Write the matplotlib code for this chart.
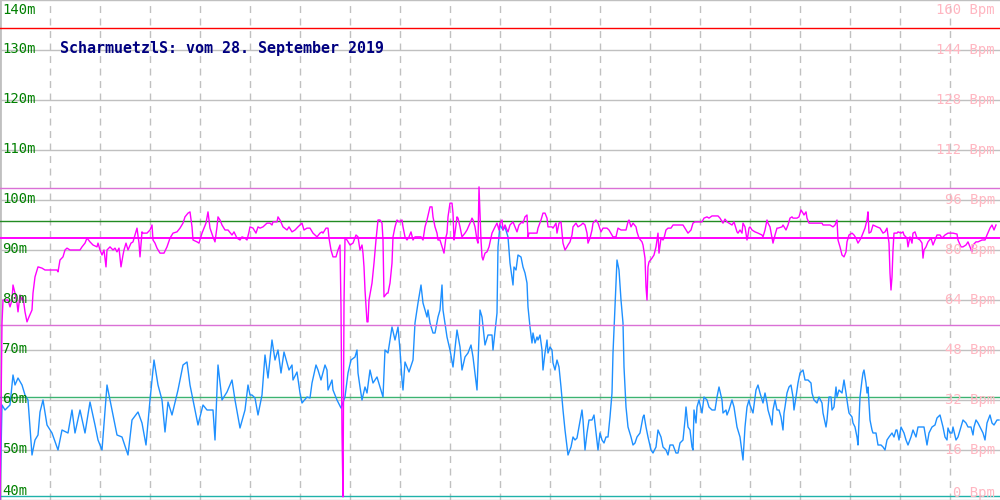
import matplotlib
matplotlib.use('Agg')
import matplotlib.pyplot as plt
import matplotlib.transforms as mtransforms

# Altitude track (m), x = sample position along the session
alt_x = [0, 2, 5, 10, 13, 15, 18, 22, 25, 28, 32, 35, 38, 40, 43, 47, 52, 58, 62, 68,
         72, 75, 80, 85, 90, 95, 98, 102, 107, 110, 113, 117, 122, 128, 132, 138, 142, 146, 150, 154,
         158, 162, 165, 168, 172, 178, 183, 187, 190, 193, 198, 203, 207, 213, 215, 218, 222, 227, 232, 235,
         240, 245, 248, 250, 252, 255, 258, 262, 265, 268, 272, 275, 278, 281, 284, 289, 292, 293, 297, 300,
         302, 307, 310, 312, 316, 318, 321, 325, 327, 328, 332, 333, 337, 341, 345, 348, 351, 355, 357, 358,
         360, 362, 365, 367, 370, 373, 377, 380, 383, 385, 388, 392, 395, 398, 400, 402, 403, 405, 409, 413,
         415, 418, 421, 423, 427, 428, 430, 433, 435, 438, 440, 442, 443, 447, 450, 453, 457, 460, 462, 465,
         468, 471, 473, 477, 480, 482, 485, 488, 492, 493, 497, 498, 500, 503, 505, 508, 510, 513, 514, 516,
         518, 521, 523, 525, 527, 528, 530, 532, 533, 535, 537, 538, 540, 542, 543, 545, 547, 548, 550, 552,
         553, 555, 557, 559, 561, 563, 565, 567, 568, 571, 573, 575, 577, 579, 582, 583, 585, 587, 589, 592,
         594, 596, 598, 600, 602, 604, 606, 608, 610, 612, 613, 615, 617, 619, 621, 623, 624, 626, 628, 631,
         633, 635, 637, 640, 643, 644, 646, 648, 651, 653, 656, 658, 661, 663, 666, 668, 670, 673, 676, 678,
         680, 683, 685, 686, 688, 690, 692, 693, 694, 696, 697, 699, 702, 704, 707, 709, 712, 715, 717, 719,
         722, 723, 726, 727, 729, 732, 734, 736, 737, 740, 743, 745, 747, 749, 750, 753, 756, 758, 760, 763,
         765, 767, 768, 770, 772, 773, 775, 777, 779, 781, 783, 784, 785, 787, 789, 791, 793, 794, 796, 798,
         800, 803, 805, 808, 811, 812, 814, 817, 819, 822, 823, 826, 827, 829, 831, 832, 834, 836, 837, 839,
         842, 844, 846, 848, 849, 852, 853, 855, 857, 858, 860, 862, 863, 864, 866, 867, 868, 870, 872, 873,
         876, 878, 881, 883, 885, 887, 889, 892, 894, 896, 897, 899, 901, 904, 906, 908, 911, 913, 916, 918,
         922, 924, 927, 929, 932, 935, 937, 940, 943, 945, 947, 948, 950, 952, 953, 956, 958, 961, 963, 966,
         968, 971, 973, 974, 976, 978, 980, 983, 985, 987, 990, 992, 994, 997, 999]
alt_m = [40.0, 59.0, 58.0, 59.0, 65.0, 63.0, 64.4, 63.0, 61.0, 60.0, 49.0, 52.0, 53.0, 57.6, 60.0, 55.0, 53.4, 50.0, 54.0, 53.4,
         58.0, 53.4, 58.0, 53.4, 59.6, 55.0, 52.0, 50.0, 63.0, 60.0, 57.0, 53.0, 52.6, 49.0, 56.0, 57.6, 55.4, 51.0, 60.0, 68.0,
         63.0, 60.0, 53.6, 59.6, 57.0, 62.0, 67.0, 67.6, 63.0, 60.0, 55.0, 59.0, 58.0, 58.0, 52.0, 67.0, 60.0, 61.6, 64.0, 60.0,
         54.4, 58.0, 63.0, 61.0, 61.0, 60.4, 57.0, 61.0, 69.0, 64.4, 72.0, 68.0, 70.0, 65.4, 69.6, 66.0, 67.0, 64.0, 65.6, 61.4,
         59.4, 60.6, 60.4, 63.4, 67.0, 66.0, 64.0, 67.0, 66.0, 62.0, 64.0, 62.0, 60.0, 58.4, 60.6, 65.4, 68.0, 68.6, 70.0, 65.4,
         62.6, 60.0, 62.6, 61.4, 66.0, 63.4, 64.6, 62.6, 60.6, 70.0, 69.4, 74.6, 72.0, 74.6, 70.0, 64.0, 62.0, 67.6, 65.6, 68.0,
         75.4, 79.4, 83.0, 79.4, 76.6, 78.0, 75.4, 73.4, 73.4, 76.6, 78.0, 83.0, 78.0, 72.6, 70.0, 66.6, 74.0, 70.6, 66.0, 68.6,
         69.4, 71.0, 68.6, 62.0, 78.0, 76.6, 71.0, 73.0, 73.0, 70.0, 77.4, 90.6, 95.0, 94.0, 94.6, 92.6, 87.4, 83.0, 86.6, 86.0,
         89.0, 88.6, 86.6, 85.4, 83.4, 78.6, 74.6, 71.4, 73.4, 71.4, 72.6, 72.0, 73.0, 70.0, 66.0, 69.4, 72.0, 69.4, 70.6, 70.0,
         67.4, 66.0, 68.0, 66.6, 62.6, 58.0, 54.0, 50.6, 49.0, 50.6, 52.6, 52.0, 52.4, 54.6, 58.0, 56.0, 50.0, 53.4, 56.0, 56.0,
         57.0, 53.4, 50.0, 53.4, 52.0, 51.4, 52.6, 52.6, 56.6, 61.4, 69.4, 78.6, 88.0, 86.0, 80.0, 75.4, 66.6, 58.6, 54.6, 52.6,
         51.0, 51.4, 52.6, 53.4, 56.6, 57.0, 54.6, 52.6, 50.0, 49.4, 50.6, 54.0, 52.6, 50.6, 50.0, 49.0, 51.0, 51.0, 49.4, 49.4,
         51.4, 52.0, 56.0, 58.6, 54.6, 54.0, 50.6, 50.0, 58.0, 55.4, 58.6, 60.0, 57.4, 60.6, 60.0, 58.6, 58.0, 58.0, 60.6, 62.6,
         60.0, 57.4, 58.0, 57.0, 58.0, 60.0, 58.6, 56.0, 54.6, 52.6, 48.0, 54.6, 58.6, 60.0, 59.0, 57.4, 62.0, 63.0, 61.4, 59.4,
         61.4, 59.4, 58.0, 56.6, 55.0, 58.0, 60.0, 58.0, 58.0, 56.6, 54.0, 57.4, 58.6, 61.4, 62.6, 63.0, 60.6, 58.0, 60.6, 63.4,
         65.4, 66.0, 64.0, 64.0, 63.4, 61.4, 60.0, 59.4, 60.6, 59.4, 57.4, 54.6, 56.0, 60.6, 60.6, 58.0, 58.6, 62.6, 60.6, 62.0,
         61.4, 64.0, 61.4, 58.6, 57.4, 56.6, 55.4, 54.6, 52.6, 51.0, 60.6, 64.0, 65.4, 66.0, 63.4, 61.4, 62.6, 56.0, 54.0, 53.4,
         53.4, 51.0, 51.0, 50.6, 50.0, 52.0, 52.6, 53.4, 52.6, 54.0, 54.0, 52.0, 54.6, 53.4, 52.0, 51.0, 52.6, 54.0, 52.6, 54.6,
         54.6, 54.6, 51.0, 53.4, 54.6, 55.0, 56.4, 57.0, 54.6, 52.6, 52.0, 54.4, 53.4, 53.4, 54.6, 52.0, 52.6, 54.6, 56.0, 55.4,
         54.6, 54.6, 53.0, 54.6, 56.0, 55.4, 54.6, 53.4, 52.0, 55.4, 57.0, 55.4, 55.0, 56.0, 56.0]

# Heart rate (Bpm)
hr_x = [0, 2, 3, 8, 10, 12, 13, 15, 17, 18, 20, 22, 23, 25, 27, 29, 32, 33, 35, 37,
        38, 42, 45, 50, 57, 58, 60, 63, 65, 67, 70, 80, 82, 85, 87, 90, 93, 97, 98, 100,
        102, 104, 106, 107, 110, 113, 115, 117, 119, 121, 123, 124, 126, 128, 131, 133, 135, 137, 139, 140,
        142, 143, 147, 150, 152, 153, 155, 157, 160, 164, 167, 170, 173, 177, 180, 183, 185, 188, 190, 192,
        193, 197, 199, 202, 204, 206, 208, 210, 213, 215, 217, 218, 220, 222, 225, 228, 232, 234, 237, 240,
        242, 245, 247, 249, 250, 253, 256, 258, 260, 263, 267, 270, 272, 273, 277, 278, 280, 283, 287, 289,
        292, 295, 298, 302, 304, 307, 310, 313, 317, 320, 322, 323, 326, 328, 329, 331, 333, 336, 338, 340,
        341, 342, 343, 344, 345, 347, 350, 353, 356, 358, 360, 362, 363, 364, 365, 367, 368, 369, 372, 374,
        376, 378, 380, 382, 383, 384, 387, 388, 390, 392, 393, 395, 397, 399, 402, 403, 405, 407, 409, 411,
        413, 415, 418, 421, 423, 425, 427, 430, 432, 433, 435, 437, 438, 440, 443, 444, 446, 447, 448, 450,
        452, 453, 454, 455, 457, 458, 460, 462, 465, 467, 470, 472, 473, 475, 477, 478, 479, 481, 482, 483,
        485, 487, 489, 492, 495, 497, 499, 500, 502, 503, 505, 507, 508, 510, 513, 515, 517, 519, 522, 523,
        525, 527, 528, 529, 533, 537, 538, 541, 543, 545, 547, 548, 552, 553, 556, 557, 559, 561, 562, 563,
        565, 567, 568, 570, 572, 573, 576, 578, 581, 583, 585, 587, 588, 590, 592, 593, 596, 598, 601, 603,
        607, 609, 612, 613, 616, 618, 621, 623, 626, 628, 629, 631, 633, 636, 637, 639, 642, 643, 645, 646,
        647, 648, 649, 652, 654, 656, 658, 659, 661, 663, 664, 666, 668, 671, 673, 677, 680, 683, 686, 688,
        691, 693, 695, 698, 702, 704, 707, 709, 712, 715, 718, 720, 723, 725, 727, 729, 732, 734, 737, 738,
        740, 742, 743, 745, 747, 748, 749, 750, 752, 755, 758, 762, 763, 765, 767, 768, 770, 772, 773, 775,
        777, 778, 782, 783, 786, 788, 790, 792, 793, 797, 799, 801, 803, 804, 806, 807, 809, 812, 815, 818,
        822, 823, 827, 830, 833, 835, 837, 838, 840, 842, 844, 846, 847, 849, 852, 854, 856, 858, 861, 863,
        865, 867, 868, 869, 871, 873, 877, 880, 883, 885, 887, 889, 890, 891, 892, 893, 894, 897, 898, 901,
        903, 904, 907, 908, 910, 912, 913, 915, 917, 920, 922, 923, 924, 926, 928, 931, 933, 935, 937, 940,
        942, 945, 948, 953, 957, 958, 961, 963, 966, 968, 970, 972, 973, 976, 978, 982, 985, 987, 990, 992,
        994, 996]
hr_bpm = [0.0, 56.6, 64.0, 64.0, 61.8, 64.0, 68.8, 66.2, 63.0, 60.2, 65.6, 64.0, 65.0, 60.2, 57.0, 58.6, 60.8, 66.2, 71.4, 73.6,
          74.6, 74.2, 73.6, 73.6, 73.6, 73.0, 76.8, 77.8, 80.0, 80.6, 80.0, 80.0, 81.0, 82.2, 83.8, 82.6, 81.6, 81.0, 82.2, 80.0,
          78.4, 80.0, 74.6, 80.0, 81.0, 80.0, 80.6, 79.4, 80.6, 74.6, 78.4, 80.0, 82.2, 80.0, 82.2, 82.6, 84.8, 87.0, 82.2, 77.8,
          85.8, 85.4, 85.4, 86.4, 88.0, 83.2, 82.2, 80.6, 79.0, 79.0, 81.0, 83.8, 85.4, 85.8, 87.0, 88.6, 90.6, 91.8, 92.2, 87.4,
          83.2, 82.6, 82.2, 85.4, 87.0, 88.6, 92.2, 87.0, 84.2, 82.6, 87.4, 90.6, 89.6, 88.0, 86.4, 86.4, 84.8, 85.8, 83.8, 83.2,
          84.2, 83.8, 83.2, 85.8, 87.4, 87.0, 85.4, 87.4, 87.0, 87.4, 88.6, 88.6, 88.0, 89.0, 89.0, 90.6, 89.6, 87.4, 86.4, 87.4,
          85.8, 86.4, 87.4, 88.6, 86.4, 87.0, 87.0, 85.4, 84.2, 85.4, 85.8, 85.4, 87.0, 87.0, 83.8, 80.0, 77.8, 77.8, 80.0, 81.6,
          61.8, 21.4, 1.0, 63.0, 83.8, 83.2, 81.6, 82.2, 84.8, 84.2, 80.0, 81.6, 79.0, 74.6, 67.2, 57.0, 57.0, 64.0, 69.4, 75.8,
          83.2, 89.6, 89.6, 88.6, 83.2, 65.0, 66.2, 66.2, 69.4, 75.8, 84.2, 87.4, 89.6, 89.0, 89.6, 87.4, 84.2, 83.2, 84.2, 85.8,
          83.2, 84.2, 84.2, 84.2, 83.2, 87.4, 89.6, 93.8, 93.8, 90.6, 87.4, 85.4, 83.2, 83.2, 80.0, 79.0, 84.2, 85.4, 90.6, 95.0,
          95.0, 91.8, 83.2, 85.4, 90.6, 90.2, 87.4, 84.2, 85.4, 86.4, 88.6, 90.2, 89.6, 87.4, 83.2, 82.2, 100.2, 83.2, 77.8, 76.8,
          79.0, 79.4, 81.0, 85.4, 87.4, 88.6, 86.4, 88.6, 89.6, 86.4, 88.0, 86.4, 85.8, 88.0, 89.0, 87.4, 85.8, 88.0, 89.0, 88.6,
          90.6, 91.2, 84.2, 85.4, 85.4, 85.4, 87.0, 89.6, 91.8, 91.8, 90.2, 87.4, 87.4, 87.0, 88.6, 85.4, 88.6, 89.0, 85.4, 82.2,
          80.0, 81.0, 81.6, 82.6, 84.8, 87.4, 88.6, 87.4, 88.0, 88.6, 88.0, 85.4, 82.2, 83.8, 86.4, 88.6, 89.6, 88.6, 85.8, 87.0,
          87.0, 86.4, 84.8, 84.2, 84.2, 87.0, 86.4, 86.4, 86.4, 89.0, 89.6, 87.4, 88.6, 87.4, 85.8, 83.8, 82.6, 81.6, 77.4, 68.2,
          64.0, 74.6, 76.2, 77.4, 78.4, 81.0, 85.4, 79.0, 83.8, 83.2, 83.8, 86.4, 87.0, 87.0, 88.0, 88.0, 88.0, 88.0, 86.4, 85.4,
          86.4, 88.6, 89.0, 89.0, 89.0, 90.2, 90.6, 90.2, 90.9, 90.9, 90.9, 90.2, 88.6, 89.9, 89.0, 88.6, 88.0, 89.0, 85.8, 85.4,
          86.4, 85.4, 88.6, 87.4, 83.2, 84.8, 87.0, 87.4, 86.4, 85.8, 85.4, 84.8, 84.2, 86.4, 89.6, 88.6, 87.4, 83.8, 82.2, 84.8,
          87.0, 87.0, 87.4, 88.0, 86.4, 88.0, 90.2, 90.6, 90.2, 90.2, 90.6, 92.8, 91.8, 91.2, 92.2, 90.2, 88.6, 88.6, 88.6, 88.6,
          88.6, 88.0, 88.0, 88.0, 87.4, 88.0, 89.6, 83.2, 81.0, 78.4, 77.8, 79.4, 82.6, 84.8, 85.4, 84.8, 83.8, 82.2, 83.8, 85.4,
          87.0, 89.6, 92.2, 85.4, 85.8, 88.0, 87.4, 87.0, 85.4, 85.8, 87.0, 82.2, 72.6, 67.2, 71.4, 80.0, 85.4, 85.4, 85.8, 85.4,
          85.8, 84.8, 83.8, 81.0, 84.2, 82.2, 85.4, 85.8, 83.8, 83.2, 82.2, 77.4, 80.0, 81.0, 82.6, 83.8, 81.6, 83.2, 84.8, 84.8,
          83.8, 84.8, 85.4, 85.4, 85.1, 83.2, 81.0, 81.0, 81.6, 82.6, 81.0, 79.4, 81.6, 82.6, 82.6, 83.2, 83.2, 84.8, 87.0, 88.0,
          86.4, 88.0]

title = 'ScharmuetzlS: vom 28. September 2019'

# reference lines
alt_lines = [95.9, 60.7, 40.9]
alt_line_colors = ['#228b22', '#3cb371', '#20b2aa']
hr_max_line = 151.0
hr_mean_line = 83.7
hr_band_lines = [100.0, 56.0]

alt_ticks = list(range(40, 141, 10))
hr_ticks = list(range(0, 161, 16))

plt.rcParams['font.family'] = 'DejaVu Sans Mono'

fig = plt.figure(figsize=(10, 5), dpi=100)
ax = fig.add_axes([0, 0, 1, 1])
ax2 = ax.twinx()

ax.set_xlim(0, 1000)
ax.set_ylim(40, 140)
ax2.set_ylim(0, 160)

# grid
for v in alt_ticks:
    ax.axhline(v, color='#c0c0c0', lw=1.0, zorder=1)
for v in range(50, 1000, 50):
    ax.axvline(v, color='#c0c0c0', lw=1.0, ls=(0, (5, 4)), zorder=1)
ax.axvline(0, color='#c0c0c0', lw=2, zorder=1)

for v, c in zip(alt_lines, alt_line_colors):
    ax.axhline(v, color=c, lw=1.0, zorder=2)
for v in hr_band_lines:
    ax2.axhline(v, color='orchid', lw=1.0, zorder=2)
ax2.axhline(hr_mean_line, color='magenta', lw=1.4, zorder=2)
ax2.axhline(hr_max_line, color='red', lw=1.0, zorder=2)

ax.plot(alt_x, alt_m, color='#1e90ff', lw=1.0, zorder=3)
ax2.plot(hr_x, hr_bpm, color='magenta', lw=1.0, zorder=3)

for a in (ax, ax2):
    a.set_xticks([])
    a.set_yticks([])
    for s in a.spines.values():
        s.set_visible(False)

# tick labels drawn inside the plot
off = mtransforms.ScaledTranslation
left_tr = mtransforms.blended_transform_factory(ax.transAxes, ax.transData)
for v in alt_ticks:
    va, dy = 'center', 1 / 100
    if v == alt_ticks[-1]:
        va, dy = 'top', -3 / 100
    elif v == alt_ticks[0]:
        va, dy = 'bottom', 2 / 100
    ax2.text(0.002, v, f'{v}m', transform=left_tr + off(0, dy, fig.dpi_scale_trans),
             color='#008000', fontsize=10, ha='left', va=va, zorder=5)

right_tr = mtransforms.blended_transform_factory(ax2.transAxes, ax2.transData)
for v in hr_ticks:
    va, dy = 'center', 0
    if v == hr_ticks[-1]:
        va, dy = 'top', -3 / 100
    elif v == hr_ticks[0]:
        va, dy = 'bottom', 0
    ax2.text(0.995, v, f'{v} Bpm', transform=right_tr + off(0, dy, fig.dpi_scale_trans),
             color='#ffb6c1', fontsize=10, ha='right', va=va, zorder=5)

ax2.text(0.06, 0.904, title, transform=ax2.transAxes, color='#000080',
         fontsize=10.8, fontweight='bold', ha='left', va='center', zorder=5)

fig.savefig('out.png', dpi=100)
